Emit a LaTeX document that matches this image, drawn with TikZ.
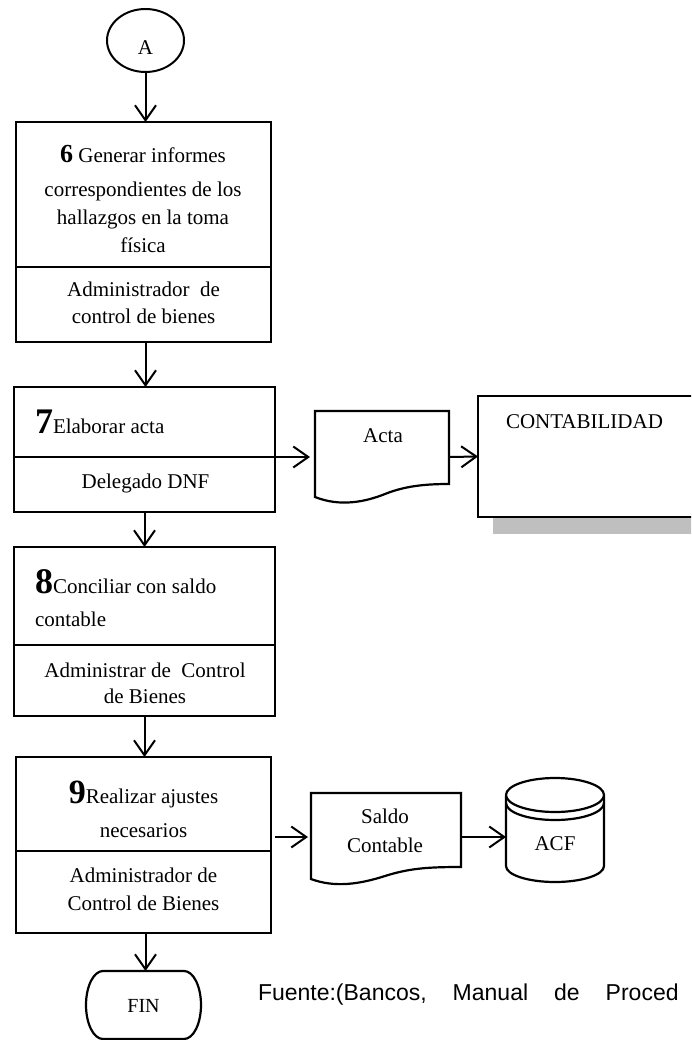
\documentclass[tikz,border=0pt]{standalone}
\usepackage{fontspec}
\setmainfont{Liberation Serif}
\newfontfamily\sourcefont{Liberation Sans}
\usetikzlibrary{arrows.meta,shapes.geometric}

\newcommand{\stepnum}[2]{{\fontsize{#1}{#1}\selectfont\bfseries #2}}

\begin{document}
\begin{tikzpicture}[x=1pt,y=-1pt,
  every node/.style={inner sep=0pt, outer sep=0pt},
  stepbox/.style={draw, rectangle, line width=2.2pt},
  ghost/.style={rectangle},
  shapeline/.style={line width=2.2pt, line join=miter},
  lbl/.style={anchor=base, font=\fontsize{21}{25}\selectfont},
  lblw/.style={anchor=base west, font=\fontsize{21}{25}\selectfont},
  arr/.style={line width=2pt, -{Straight Barb[length=15pt,width=21pt]}}
]
\useasboundingbox (0,0) rectangle (691,1040);
\clip (0,0) rectangle (691,1040);

% start connector
\node[ellipse, draw, line width=2pt, minimum width=77, minimum height=63] (A) at (145.5,40.5) {};
\node[lbl] (Atxt) at (145.5,55) {A};

% step 6
\node[stepbox, minimum width=255, minimum height=145] (b6t) at (143.5,194.5) {};
\node[stepbox, minimum width=255, minimum height=75] (b6b) at (143.5,304.5) {};
\node[lbl] (t6a) at (143,163) {\stepnum{26}{6} Generar informes};
\node[lbl] (t6b) at (143,197) {correspondientes de los};
\node[lbl] (t6c) at (143,225) {hallazgos en la toma};
\node[lbl] (t6d) at (143,253) {física};
\node[lbl] (r6a) at (143.5,297) {Administrador\ \ de};
\node[lbl] (r6b) at (143.5,323) {control de bienes};

% step 7
\node[stepbox, minimum width=261, minimum height=70] (b7t) at (144.5,422) {};
\node[stepbox, minimum width=261, minimum height=55] (b7b) at (144.5,484.5) {};
\node[lblw] (t7a) at (35,433) {\stepnum{36}{7}Elaborar acta};
\node[lbl] (r7a) at (145.5,488) {Delegado DNF};

% step 8
\node[stepbox, minimum width=261, minimum height=98] (b8t) at (144.5,596) {};
\node[stepbox, minimum width=261, minimum height=71] (b8b) at (144.5,680.5) {};
\node[lblw] (t8a) at (35,593) {\stepnum{36}{8}Conciliar con saldo};
\node[lblw] (t8b) at (35,626) {contable};
\node[lbl] (r8a) at (145,677) {Administrar de\ \ Control};
\node[lbl] (r8b) at (145,703) {de Bienes};

% step 9
\node[stepbox, minimum width=255, minimum height=94] (b9t) at (143.5,804) {};
\node[stepbox, minimum width=255, minimum height=82] (b9b) at (143.5,892) {};
\node[lbl] (t9a) at (143.5,803) {\stepnum{34}{9}Realizar ajustes};
\node[lbl] (t9b) at (143.5,837) {necesarios};
\node[lbl] (r9a) at (143.5,882) {Administrador de};
\node[lbl] (r9b) at (143.5,910) {Control de Bienes};

% document: Acta
\node[ghost, minimum width=134, minimum height=92] (acta) at (382,457) {};
\draw[shapeline] (315,411) -- (449,411) -- (449,484)
  .. controls (425,484) and (405,486) .. (385,494)
  .. controls (365,502) and (340,507) .. (315,497) -- cycle;
\node[lbl] (actatxt) at (383,442) {Acta};

% CONTABILIDAD box with shadow
\fill[black!25] (493,517) rectangle (700,534);
\node[draw, fill=white, line width=2.2pt, minimum width=224, minimum height=121] (contab) at (590,456.5) {};
\node[lblw] (contabtxt) at (506,428) {CONTABILIDAD};

% document: Saldo Contable
\node[ghost, minimum width=150, minimum height=88] (saldo) at (386,837) {};
\draw[shapeline] (311,793) -- (461,793) -- (461,867)
  .. controls (430,867) and (410,868) .. (385,876)
  .. controls (360,884) and (335,888) .. (311,879) -- cycle;
\node[lbl] (saldoa) at (385,823) {Saldo};
\node[lbl] (saldob) at (385,852) {Contable};

% database: ACF
\node[ghost, minimum width=98, minimum height=90] (acf) at (555,837) {};
\draw[shapeline] (506,796) -- (506,866) arc[start angle=180, end angle=0, x radius=49, y radius=16] -- (604,796);
\draw[shapeline] (506,803) arc[start angle=180, end angle=0, x radius=49, y radius=17];
\draw[shapeline, fill=white] (555,795) ellipse[x radius=49, y radius=17];
\node[lbl] (acftxt) at (555,850) {ACF};

% terminator: FIN
\node[ghost, minimum width=115, minimum height=68] (fin) at (143.5,1005) {};
\draw[shapeline] (103,971) -- (184,971)
  arc[start angle=-90, end angle=90, x radius=17, y radius=34]
  -- (103,1039)
  arc[start angle=90, end angle=270, x radius=17, y radius=34] -- cycle;
\node[lbl, font=\fontsize{20}{24}\selectfont] (fintxt) at (143.5,1012) {FIN};

% source line
\node[anchor=base west, font=\sourcefont\fontsize{23}{27}\selectfont] (src) at (258,1000)
  {Fuente:(Bancos,\hspace{26pt}Manual\hspace{26pt}de\hspace{26pt}Proced};

% flow
\draw[arr] (A.south) -- (A.south |- b6t.north);
\draw[arr] (b6b.south -| A.south) -- (A.south |- b7t.north);
\draw[arr] (b7b.south) -- (b7b.south |- b8t.north);
\draw[arr] (b8b.south) -- (b8b.south |- b9t.north);
\draw[arr] ([xshift=2pt]b9b.south) -- ([xshift=2pt]b9b.south |- fin.north);
\draw[arr, shorten >=5pt] (b7t.south east) -- (acta.west);
\draw[arr] (acta.east) -- (contab.west);
\draw[arr, shorten >=3pt] ([xshift=4pt]b9t.east |- saldo.west) -- (saldo.west);
\draw[arr] (saldo.east) -- (acf.west);
\end{tikzpicture}
\end{document}
